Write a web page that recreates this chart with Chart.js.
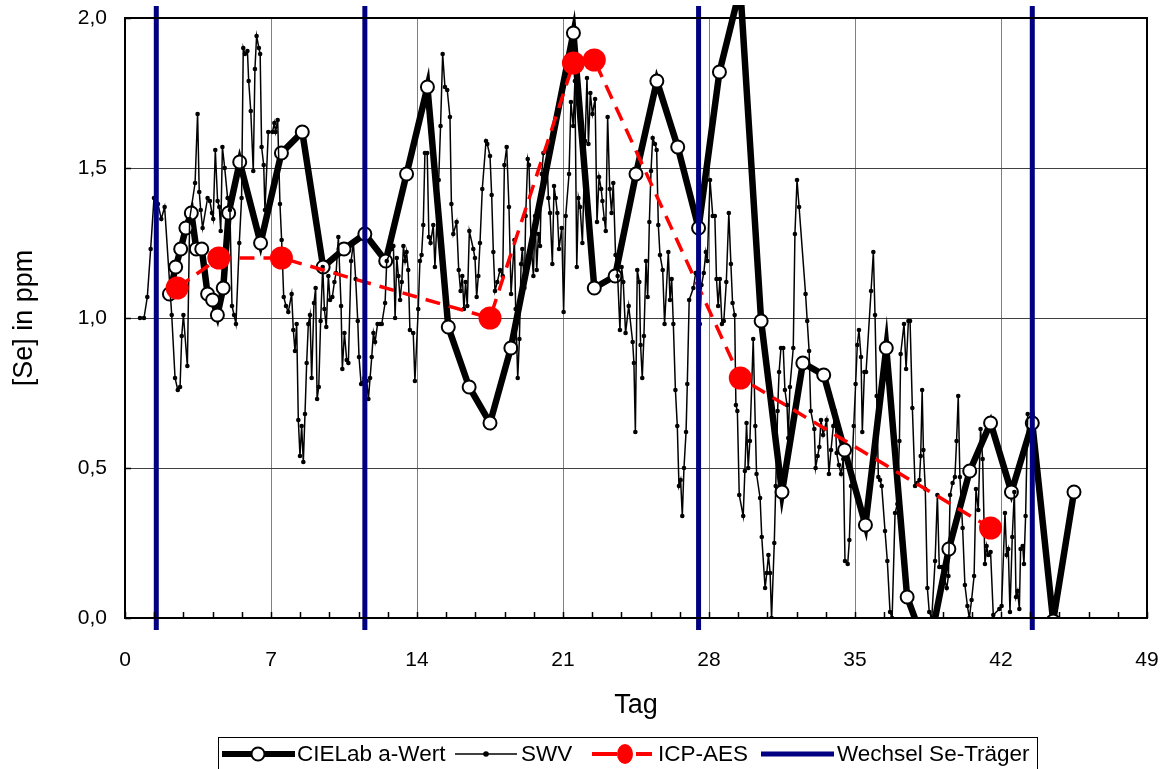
<!DOCTYPE html>
<html>
<head>
<meta charset="utf-8">
<script src="https://cdn.jsdelivr.net/npm/chart.js@4.4.1/dist/chart.umd.min.js"></script>
<style>
    html, body { margin: 0; padding: 0; background: #fff; }
</style>
</head>
<body>
<canvas id="myChart" width="1163" height="769"></canvas>
<script>
// x ticks (Tag) and y ticks ([Se] in ppm)
const xTicks = [0, 7, 14, 21, 28, 35, 42, 49];
const yTicks = [0, 0.5, 1.0, 1.5, 2.0];

// CIELab a-Wert
const labDays = [2.13, 2.43, 2.67, 2.92, 3.18, 3.42, 3.68, 3.96, 4.20, 4.43, 4.71, 4.97, 5.5, 6.5, 7.5, 8.5, 9.5, 10.5, 11.5,
    12.5, 13.5, 14.5, 15.5, 16.5, 17.5, 18.5, 21.5, 22.5, 23.5, 24.5, 25.5, 26.5, 27.5, 28.5, 29.5, 30.5, 31.5, 32.5,
    33.5, 34.5, 35.5, 36.5, 37.5, 38.5, 39.5, 40.5, 41.5, 42.5, 43.5, 44.5, 45.5];
const labPpm = [1.08, 1.17, 1.23, 1.30, 1.35, 1.23, 1.23, 1.08, 1.06, 1.01, 1.10, 1.35, 1.52, 1.25, 1.55, 1.62, 1.17, 1.23, 1.28,
    1.19, 1.48, 1.77, 0.97, 0.77, 0.65, 0.90, 1.95, 1.10, 1.14, 1.48, 1.79, 1.57, 1.30, 1.82, 2.10, 0.99, 0.42, 0.85,
    0.81, 0.56, 0.31, 0.90, 0.07, -0.12, 0.23, 0.49, 0.65, 0.42, 0.65, -0.01, 0.42];

// SWV
const swvDays = [0.72, 0.91, 1.07, 1.23, 1.39, 1.58, 1.74, 1.90, 2.24, 2.40, 2.53, 2.64, 2.72, 2.80, 2.99, 3.10, 3.36, 3.48, 3.56, 3.63,
    3.72, 3.96, 4.07, 4.17, 4.23, 4.33, 4.44, 4.52, 4.59, 4.67, 4.78, 4.92, 5.03, 5.13, 5.23, 5.32, 5.48, 5.59, 5.67, 5.75,
    5.87, 5.93, 6.03, 6.15, 6.23, 6.31, 6.42, 6.48, 6.55, 6.65, 6.71, 6.87, 7.07, 7.16, 7.22, 7.32, 7.43, 7.51, 7.61, 7.72,
    7.83, 7.99, 8.07, 8.15, 8.23, 8.31, 8.39, 8.47, 8.55, 8.63, 8.71, 8.79, 8.87, 8.95, 9.06, 9.14, 9.21, 9.29, 9.38, 9.48,
    9.56, 9.65, 9.75, 9.83, 9.94, 10.04, 10.12, 10.23, 10.36, 10.42, 10.52, 10.63, 10.71, 10.84, 10.95, 11.06, 11.16, 11.22, 11.32, 11.48,
    11.59, 11.67, 11.75, 11.83, 11.91, 11.99, 12.11, 12.23, 12.31, 12.47, 12.55, 12.79, 12.87, 12.95, 13.03, 13.11, 13.19, 13.27, 13.35, 13.43,
    13.50, 13.58, 13.66, 13.82, 13.90, 14.06, 14.14, 14.22, 14.30, 14.38, 14.49, 14.57, 14.65, 14.78, 14.86, 15.04, 15.13, 15.23, 15.34, 15.45,
    15.58, 15.65, 15.74, 15.90, 16.00, 16.09, 16.17, 16.25, 16.33, 16.41, 16.51, 16.70, 16.78, 16.86, 16.94, 17.02, 17.13, 17.31, 17.37, 17.50,
    17.58, 17.66, 17.74, 17.85, 17.98, 18.11, 18.19, 18.30, 18.41, 18.51, 18.67, 18.73, 18.83, 18.91, 18.99, 19.05, 19.15, 19.21, 19.31, 19.37,
    19.47, 19.58, 19.66, 19.74, 19.82, 19.90, 19.98, 20.06, 20.22, 20.30, 20.38, 20.49, 20.57, 20.65, 20.73, 20.81, 20.94, 21.03, 21.13, 21.29,
    21.38, 21.49, 21.57, 21.66, 21.74, 21.82, 21.93, 22.06, 22.15, 22.22, 22.31, 22.41, 22.54, 22.63, 22.73, 22.83, 22.89, 22.98, 23.05, 23.14,
    23.24, 23.33, 23.41, 23.52, 23.62, 23.73, 23.81, 23.89, 24.00, 24.15, 24.34, 24.40, 24.47, 24.56, 24.66, 24.72, 24.80, 24.88, 24.98, 25.06,
    25.14, 25.22, 25.30, 25.41, 25.49, 25.57, 25.65, 25.78, 25.87, 26.05, 26.13, 26.21, 26.29, 26.39, 26.48, 26.56, 26.64, 26.72, 26.80, 26.90,
    26.96, 27.05, 27.25, 27.36, 27.48, 27.56, 27.64, 27.75, 27.85, 27.92, 28.05, 28.18, 28.28, 28.36, 28.44, 28.52, 28.62, 28.71, 28.83, 28.95,
    29.05, 29.13, 29.23, 29.29, 29.36, 29.45, 29.64, 29.72, 29.80, 29.88, 29.96, 30.12, 30.22, 30.28, 30.45, 30.53, 30.69, 30.77, 30.85, 30.93,
    31.00, 31.13, 31.20, 31.29, 31.36, 31.45, 31.56, 31.64, 31.74, 31.80, 31.88, 32.04, 32.12, 32.22, 32.32, 32.63, 32.71, 32.80, 32.88, 33.05,
    33.11, 33.21, 33.29, 33.37, 33.47, 33.64, 33.75, 33.85, 33.96, 34.04, 34.12, 34.23, 34.33, 34.44, 34.52, 34.65, 34.73, 34.81, 34.94, 35.03,
    35.11, 35.19, 35.29, 35.35, 35.45, 35.53, 35.77, 35.88, 35.96, 36.04, 36.12, 36.20, 36.28, 36.44, 36.55, 36.68, 36.78, 36.92, 37.03, 37.13,
    37.19, 37.35, 37.45, 37.56, 37.64, 37.75, 37.88, 37.99, 38.09, 38.15, 38.22, 38.28, 38.37, 38.47, 38.56, 38.68, 38.84, 38.95, 39.04, 39.15,
    39.40, 39.48, 39.56, 39.68, 39.79, 39.87, 39.95, 40.03, 40.16, 40.27, 40.39, 40.48, 40.59, 40.71, 40.80, 40.91, 41.02, 41.12, 41.23, 41.31,
    41.39, 41.50, 41.63, 41.92, 42.03, 42.19, 42.27, 42.35, 42.43, 42.54, 42.64, 42.72, 42.80, 42.88, 42.94, 43.04, 43.10, 43.18, 43.28];
const swvPpm = [1.00, 1.00, 1.07, 1.23, 1.40, 1.38, 1.33, 1.37, 1.01, 0.80, 0.76, 0.77, 0.94, 1.01, 0.84, 1.33, 1.45, 1.68, 1.42, 1.36,
    1.30, 1.40, 1.39, 1.35, 1.33, 1.56, 1.39, 1.37, 1.29, 1.57, 1.50, 1.40, 1.36, 1.04, 1.01, 0.98, 1.25, 1.40, 1.90, 1.88,
    1.89, 1.79, 1.69, 1.49, 1.83, 1.94, 1.90, 1.88, 1.57, 1.51, 1.36, 1.62, 1.62, 1.65, 1.62, 1.66, 1.38, 1.26, 1.07, 1.04,
    1.02, 1.08, 0.96, 0.89, 0.98, 0.66, 0.54, 0.64, 0.52, 0.68, 0.85, 0.98, 1.01, 0.80, 1.05, 1.10, 0.73, 0.77, 0.99, 1.17,
    1.03, 0.97, 1.14, 1.06, 1.07, 1.12, 1.15, 1.27, 1.04, 0.83, 0.95, 0.86, 0.85, 1.19, 1.25, 1.13, 0.99, 0.87, 0.78, 0.80,
    0.79, 0.73, 0.80, 0.87, 0.95, 0.92, 0.98, 0.98, 0.98, 1.05, 1.19, 1.23, 1.24, 1.00, 1.20, 1.14, 1.06, 1.12, 1.24, 1.19,
    1.22, 1.16, 0.96, 0.95, 0.79, 1.03, 1.19, 1.21, 1.31, 1.55, 1.55, 1.27, 1.25, 1.31, 1.17, 1.46, 1.64, 1.88, 1.77, 1.76,
    1.67, 1.38, 1.28, 1.32, 1.16, 1.09, 1.14, 1.03, 1.12, 1.04, 1.29, 1.23, 1.20, 1.07, 1.14, 1.25, 1.43, 1.59, 1.58, 1.54,
    1.41, 1.22, 1.09, 1.12, 1.16, 1.14, 1.51, 1.57, 1.37, 1.08, 1.26, 1.03, 0.80, 0.93, 1.18, 1.23, 1.10, 1.34, 1.53, 1.51,
    1.25, 1.14, 1.34, 1.16, 1.28, 1.24, 1.48, 1.55, 1.56, 1.40, 1.35, 1.18, 1.44, 1.40, 1.35, 1.23, 1.30, 1.02, 1.34, 1.48,
    1.72, 1.64, 1.79, 1.17, 1.40, 1.37, 1.25, 1.59, 1.80, 1.58, 1.75, 1.68, 1.73, 1.32, 1.47, 1.43, 1.39, 1.33, 1.29, 1.67,
    1.43, 1.35, 1.45, 1.21, 1.14, 0.96, 1.17, 1.12, 0.95, 1.04, 0.92, 0.85, 0.62, 1.16, 1.12, 0.91, 0.80, 0.94, 1.19, 1.07,
    1.32, 1.49, 1.60, 1.58, 1.56, 1.31, 1.21, 1.16, 0.98, 1.22, 1.06, 1.13, 0.98, 0.76, 0.64, 0.44, 0.46, 0.34, 0.50, 0.62,
    0.78, 1.06, 1.10, 1.15, 1.13, 0.98, 1.11, 1.15, 1.22, 1.19, 1.46, 1.34, 1.34, 1.13, 1.04, 1.13, 0.98, 0.99, 1.12, 1.35,
    1.18, 1.05, 1.01, 0.71, 0.69, 0.41, 0.34, 0.49, 0.65, 0.50, 0.59, 0.93, 0.64, 0.48, 0.40, 0.27, 0.10, 0.15, 0.21, 0.15,
    0.00, 0.25, 0.44, 0.69, 0.82, 0.90, 0.90, 0.76, 0.71, 0.60, 0.77, 0.90, 1.28, 1.46, 1.37, 1.08, 0.99, 0.89, 0.69, 0.63,
    0.50, 0.54, 0.57, 0.66, 0.61, 0.66, 0.48, 0.56, 0.64, 0.69, 0.55, 0.51, 0.48, 0.53, 0.19, 0.18, 0.26, 0.44, 0.64, 0.78,
    0.91, 0.96, 0.87, 0.62, 0.82, 0.82, 1.09, 1.22, 1.01, 0.74, 0.47, 0.46, 0.44, 0.29, 0.19, 0.02, 0.00, 0.35, 0.38, 0.59,
    0.88, 0.98, 0.83, 0.99, 0.99, 0.70, 0.44, 0.45, 0.46, 0.54, 0.76, 0.56, 0.43, 0.10, 0.02, 0.00, 0.19, 0.41, 0.17, 0.17,
    0.10, 0.14, 0.41, 0.45, 0.47, 0.59, 0.74, 0.47, 0.30, 0.11, 0.04, 0.00, 0.06, 0.14, 0.43, 0.36, 0.63, 0.53, 0.18, 0.24,
    0.21, 0.22, 0.01, 0.03, 0.04, 0.35, 0.21, 0.23, 0.02, 0.27, 0.42, 0.07, 0.09, 0.03, 0.23, 0.24, 0.18, 0.34, 0.68];

// ICP-AES
const icpDays = [2.5, 4.5, 7.5, 17.5, 21.5, 22.5, 29.5, 41.5];
const icpPpm = [1.10, 1.20, 1.20, 1.00, 1.85, 1.86, 0.80, 0.30];

// Wechsel Se-Traeger (vertical lines)
const changeDays = [1.5, 11.5, 27.5, 43.5];
const changeSpan = [-0.04, 2.04];

const FONT = "'Liberation Sans', Arial, sans-serif";

function toPoints(xs, ys) {
    return xs.map(function (x, i) { return {x: x, y: ys[i]}; });
}

let changePoints = [];
changeDays.forEach(function (d) {
    changePoints.push({x: d, y: changeSpan[0]}, {x: d, y: changeSpan[1]}, {x: d, y: null});
});

// frame, inner tick marks
const frame = {
    id: 'frame',
    afterDatasetsDraw(chart) {
        const ctx = chart.ctx;
        const a = chart.chartArea;
        const xs = chart.scales.x, ys = chart.scales.y;
        ctx.save();
        ctx.strokeStyle = '#000';
        ctx.lineWidth = 1.5;
        ctx.beginPath();
        for (let k = 0; k <= 35; k++) {
            const px = Math.round(xs.getPixelForValue(k * 1.4)) + 0.5;
            ctx.moveTo(px, a.bottom);
            ctx.lineTo(px, a.bottom - 6);
        }
        yTicks.forEach(function (v) {
            const py = Math.round(ys.getPixelForValue(v)) + 0.5;
            ctx.moveTo(a.left, py);
            ctx.lineTo(a.left + 6, py);
        });
        ctx.stroke();
        ctx.lineWidth = 2;
        ctx.strokeRect(a.left, a.top, a.right - a.left, a.bottom - a.top);
        ctx.restore();
    }
};

// legend box at the bottom
const legendBox = {
    id: 'legendBox',
    afterDraw(chart) {
        const ctx = chart.ctx;
        const cy = 754;
        ctx.save();
        ctx.strokeStyle = '#000';
        ctx.lineWidth = 1;
        ctx.strokeRect(218.5, 737.5, 819, 40);
        ctx.font = '22.5px ' + FONT;
        ctx.fillStyle = '#000';
        ctx.textBaseline = 'middle';
        ctx.textAlign = 'left';
        ctx.lineCap = 'butt';

        // CIELab a-Wert
        ctx.lineWidth = 6;
        ctx.beginPath(); ctx.moveTo(222, cy); ctx.lineTo(295, cy); ctx.stroke();
        ctx.beginPath(); ctx.arc(258, cy, 6.5, 0, Math.PI * 2);
        ctx.fillStyle = '#fff'; ctx.fill();
        ctx.lineWidth = 2; ctx.stroke();
        ctx.fillStyle = '#000';
        ctx.fillText('CIELab a-Wert', 297, cy + 1);

        // SWV
        ctx.lineWidth = 1.5;
        ctx.beginPath(); ctx.moveTo(455, cy); ctx.lineTo(517, cy); ctx.stroke();
        ctx.beginPath(); ctx.arc(486, cy, 2.8, 0, Math.PI * 2); ctx.fill();
        ctx.fillText('SWV', 521, cy + 1);

        // ICP-AES
        ctx.strokeStyle = '#ff0000';
        ctx.fillStyle = '#ff0000';
        ctx.lineWidth = 4;
        ctx.beginPath(); ctx.moveTo(592, cy); ctx.lineTo(617, cy); ctx.stroke();
        ctx.beginPath(); ctx.moveTo(636, cy); ctx.lineTo(652, cy); ctx.stroke();
        ctx.beginPath(); ctx.ellipse(625, cy, 8, 10, 0, 0, Math.PI * 2); ctx.fill();
        ctx.fillStyle = '#000';
        ctx.fillText('ICP-AES', 658, cy + 1);

        // Wechsel Se-Traeger
        ctx.strokeStyle = '#000080';
        ctx.lineWidth = 5;
        ctx.beginPath(); ctx.moveTo(761, cy); ctx.lineTo(834, cy); ctx.stroke();
        ctx.fillText('Wechsel Se-Träger', 837, cy + 1);
        ctx.restore();
    }
};

new Chart(document.getElementById('myChart'), {
    type: 'line',
    data: {
        datasets: [
            {
                label: 'Wechsel Se-Träger',
                data: changePoints,
                borderColor: '#000080',
                borderWidth: 5,
                pointRadius: 0,
                spanGaps: false,
                clip: {left: 0, right: 0, top: 12, bottom: 12}
            },
            {
                label: 'ICP-AES',
                data: toPoints(icpDays, icpPpm),
                borderColor: '#ff0000',
                borderWidth: 3.5,
                borderDash: [15, 9],
                pointRadius: 11.5,
                pointBackgroundColor: '#ff0000',
                pointBorderWidth: 0
            },
            {
                label: 'SWV',
                data: toPoints(swvDays, swvPpm),
                borderColor: '#000',
                borderWidth: 1.5,
                pointRadius: 2.3,
                pointBackgroundColor: '#000',
                pointBorderWidth: 0
            },
            {
                label: 'CIELab a-Wert',
                data: toPoints(labDays, labPpm),
                borderColor: '#000',
                borderWidth: 6.5,
                pointRadius: 6.5,
                pointBackgroundColor: '#fff',
                pointBorderColor: '#000',
                pointBorderWidth: 2,
                clip: {left: 0, right: 0, top: 13, bottom: 0}
            }
        ]
    },
    options: {
        responsive: false,
        animation: false,
        events: [],
        devicePixelRatio: 1,
        layout: {padding: {left: 0, right: 16, top: 18, bottom: 41}},
        plugins: {legend: {display: false}, tooltip: {enabled: false}},
        elements: {line: {tension: 0}},
        scales: {
            x: {
                type: 'linear',
                min: 0,
                max: 49,
                afterBuildTicks: function (s) { s.ticks = xTicks.map(function (v) { return {value: v}; }); },
                afterFit: function (s) { s.height = 110; s.paddingLeft = 0; s.paddingRight = 0; },
                ticks: {padding: 30, color: '#000', font: {family: FONT, size: 21}, maxRotation: 0},
                grid: {color: '#808080', lineWidth: 1, drawTicks: false},
                border: {display: false},
                title: {display: true, text: 'Tag', color: '#000', font: {family: FONT, size: 27}, padding: {top: 0, bottom: 6}}
            },
            y: {
                min: 0,
                max: 2,
                afterBuildTicks: function (s) { s.ticks = yTicks.map(function (v) { return {value: v}; }); },
                afterFit: function (s) { s.width = 125; s.paddingTop = 0; s.paddingBottom = 0; },
                ticks: {
                    padding: 18, color: '#000', font: {family: FONT, size: 21},
                    callback: function (v) { return v.toFixed(1).replace('.', ','); }
                },
                grid: {color: '#404040', lineWidth: 1, drawTicks: false},
                border: {display: false},
                title: {display: true, text: '[Se] in ppm', color: '#000', font: {family: FONT, size: 27}, padding: {top: 8, bottom: 0}}
            }
        }
    },
    plugins: [frame, legendBox]
});
</script>
</body>
</html>
